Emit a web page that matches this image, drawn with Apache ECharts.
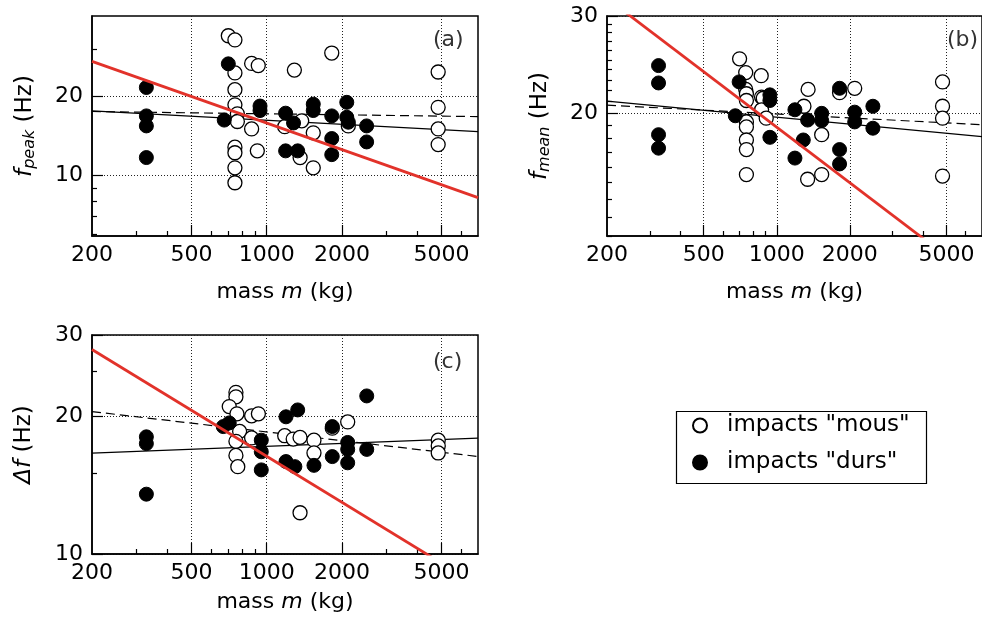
<!DOCTYPE html>
<html><head><meta charset="utf-8">
<script src="https://cdn.jsdelivr.net/npm/echarts@6/dist/echarts.min.js"></script>
<style>html,body{margin:0;padding:0;background:#fff}#c{width:982px;height:628px}</style>
</head><body><div id="c"></div>
<script>
const FONT = 'DejaVu Sans';
// shared x axis (mass, kg, log)
const xMin = 200, xMax = 7000;
const xLabels = [200, 500, 1000, 2000, 5000];
const xMajorTicks = [500, 1000, 2000, 5000];
const xMinorTicks = [300, 400, 600, 700, 800, 900, 3000, 4000, 6000];

// panel (a): f_peak
const aYMin = 5.92, aYMax = 40;
const aYLabels = [10, 20];
const aYMinor = [6, 7, 8, 9, 30];
const aMous = [[702,33.7],[746,32.5],[746,24.4],[746,21.1],[746,18.5],[763,17.1],[763,16.0],[746,12.8],[746,12.2],[746,10.7],[746,9.4],[870,26.5],[925,26.0],[870,15.0],[917,12.4],[1290,25.0],[1180,15.3],[1380,16.1],[1360,11.7],[1820,29.0],[1535,14.5],[1535,10.7],[2120,15.4],[4850,24.6],[4850,18.1],[4850,15.0],[4850,13.1]];
const aDurs = [[330,21.5],[330,16.8],[330,15.4],[330,11.7],[702,26.4],[676,16.2],[940,18.3],[940,17.6],[1190,17.2],[1190,12.4],[1280,15.8],[1330,12.4],[1535,18.6],[1535,17.6],[1820,16.8],[1820,13.8],[1820,12.0],[2090,18.9],[2090,16.6],[2120,15.9],[2510,15.4],[2510,13.4]];
const aFitRed = [[200,26.97],[7000,8.26]];
const aFitSolid = [[200,17.55],[7000,14.66]];
const aFitDash = [[200,17.45],[7000,16.7]];

// panel (b): f_mean
const bYMin = 12, bYMax = 30;
const bYLabels = [20, 30];
const bYMinor = [12,13,14,15,16,17,18,19,21,22,23,24,25,26,27,28,29];
const bMous = [[703,25.1],[745,23.7],[863,23.4],[745,22.1],[750,21.7],[750,21.1],[866,21.4],[880,21.3],[866,20.3],[905,19.6],[750,19.3],[750,18.9],[750,17.9],[750,17.2],[750,15.5],[1294,20.6],[1346,22.1],[1340,15.2],[1531,15.5],[1531,18.3],[1814,21.8],[2094,22.2],[4815,22.8],[4815,20.6],[4815,19.6],[4815,15.4]];
const bDurs = [[326,24.4],[326,22.7],[326,18.3],[326,17.3],[700,22.8],[675,19.8],[937,21.6],[937,21.1],[937,18.1],[1188,20.3],[1188,16.6],[1286,17.9],[1340,19.45],[1531,20.0],[1531,19.4],[1814,22.2],[1814,17.2],[1814,16.2],[2094,20.1],[2094,19.3],[2488,20.6],[2488,18.8]];
const bFitRed = [[200,32.3],[7000,9.86]];
const bFitSolid = [[200,21.05],[7000,18.15]];
const bFitDash = [[200,20.7],[7000,19.07]];

// panel (c): delta f
const cYMin = 10, cYMax = 30;
const cYLabels = [10, 20, 30];
const cYMinor = [15, 25];
const cMous = [[753,22.5],[753,22.0],[708,20.95],[760,20.2],[870,20.0],[926,20.2],[779,18.5],[753,17.6],[870,17.9],[753,16.4],[766,15.5],[1180,18.1],[1276,17.8],[1359,17.95],[1545,17.7],[1545,16.6],[1359,12.3],[1829,18.8],[2108,19.4],[4854,17.7],[4854,17.2],[4854,16.6]];
const cDurs = [[330,18.0],[330,17.4],[330,13.5],[670,18.95],[708,19.3],[951,17.7],[951,16.7],[951,15.25],[1194,19.9],[1194,15.9],[1330,20.6],[1296,15.5],[1545,15.6],[1829,18.95],[1829,16.3],[2108,17.5],[2108,16.9],[2108,15.8],[2512,22.1],[2512,16.9]];
const cFitRed = [[200,27.9],[7000,8.54]];
const cFitSolid = [[200,16.59],[7000,17.88]];
const cFitDash = [[200,20.43],[7000,16.31]];

const MOUS = 'impacts "mous"', DURS = 'impacts "durs"';
const RED = '#e2322a';
const fmt = v => String(Math.round(v));
const lbl = {fontSize: 22, fontFamily: FONT, color: '#000'};
const tickStyle = {color: '#000', width: 1.2};
const dotted = {color: '#222', width: 1, type: [1, 2]};

function xAxes(gi, nameGap) {
  return [{
    type: 'log', gridIndex: gi, min: xMin, max: xMax, position: 'bottom',
    axisLine: {show: true, lineStyle: {color: '#000', width: 1.5}},
    axisTick: {show: true, inside: true, length: 11, customValues: xMajorTicks, lineStyle: tickStyle},
    axisLabel: Object.assign({customValues: xLabels, formatter: fmt, margin: 8}, lbl),
    splitLine: {show: true, lineStyle: dotted},
    name: 'mass {i|m} (kg)', nameLocation: 'middle', nameGap: nameGap,
    nameTextStyle: {fontSize: 22, fontFamily: FONT, color: '#000',
      rich: {i: {fontSize: 22, fontFamily: FONT, fontStyle: 'italic', color: '#000'}}}
  }, {
    type: 'log', gridIndex: gi, min: xMin, max: xMax, position: 'bottom', offset: 0,
    axisLine: {show: false},
    axisTick: {show: true, inside: true, length: 5, customValues: xMinorTicks, lineStyle: tickStyle},
    axisLabel: {show: false}, splitLine: {show: false}
  }];
}
function yAxes(gi, min, max, labels, minor, name, rich, nameGap) {
  return [{
    type: 'log', gridIndex: gi, min: min, max: max, position: 'left',
    axisLine: {show: true, lineStyle: {color: '#000', width: 1.5}},
    axisTick: {show: true, inside: true, length: 11, customValues: labels, lineStyle: tickStyle},
    axisLabel: Object.assign({customValues: labels, formatter: fmt, margin: 9}, lbl),
    splitLine: {show: true, lineStyle: dotted},
    name: name, nameLocation: 'middle', nameRotate: 90, nameGap: nameGap,
    nameTextStyle: {fontSize: 23, fontFamily: FONT, color: '#000', rich: rich}
  }, {
    type: 'log', gridIndex: gi, min: min, max: max, position: 'left', offset: 0,
    axisLine: {show: false},
    axisTick: {show: true, inside: true, length: 5, customValues: minor, lineStyle: tickStyle},
    axisLabel: {show: false}, splitLine: {show: false}
  }];
}
const subRich = {
  i: {fontSize: 23, fontFamily: FONT, fontStyle: 'italic', color: '#000'},
  s: {fontSize: 16, fontFamily: FONT, fontStyle: 'italic', color: '#000', verticalAlign: 'bottom', padding: [9, 0, 0, 0]}
};

function panelSeries(xi, yi, mous, durs, red, solid, dash) {
  return [
    {type: 'line', name: 'fitSolid', xAxisIndex: xi, yAxisIndex: yi, data: solid, symbol: 'none',
     lineStyle: {color: '#000', width: 1.2}, silent: true, z: 2},
    {type: 'line', name: 'fitDash', xAxisIndex: xi, yAxisIndex: yi, data: dash, symbol: 'none',
     lineStyle: {color: '#000', width: 1.2, type: [9, 5]}, silent: true, z: 2},
    {type: 'scatter', name: MOUS, xAxisIndex: xi, yAxisIndex: yi, data: mous, symbol: 'circle', symbolSize: 14,
     itemStyle: {color: '#fff', borderColor: '#000', borderWidth: 1.3, opacity: 1}, z: 3},
    {type: 'scatter', name: DURS, xAxisIndex: xi, yAxisIndex: yi, data: durs, symbol: 'circle', symbolSize: 14,
     itemStyle: {color: '#000', borderColor: '#000', borderWidth: 1, opacity: 1}, z: 4},
    {type: 'line', name: 'fitRed', xAxisIndex: xi, yAxisIndex: yi, data: red, symbol: 'none',
     lineStyle: {color: RED, width: 2.8}, silent: true, z: 5}
  ];
}

const chart = echarts.init(document.getElementById('c'), null, {renderer: 'canvas'});
const gridStyle = {show: true, borderColor: '#000', borderWidth: 1.5, backgroundColor: 'rgba(0,0,0,0)'};
chart.setOption({
  animation: false,
  backgroundColor: '#fff',
  textStyle: {fontFamily: FONT},
  grid: [
    Object.assign({left: 92, top: 16, width: 386, height: 220}, gridStyle),
    Object.assign({left: 607, top: 16, width: 386, height: 220}, gridStyle),
    Object.assign({left: 92, top: 335, width: 386, height: 219}, gridStyle)
  ],
  xAxis: [].concat(xAxes(0, 45), xAxes(1, 45), xAxes(2, 37)),
  yAxis: [].concat(
    yAxes(0, aYMin, aYMax, aYLabels, aYMinor, '{i|f}{s|peak} (Hz)', subRich, 54),
    yAxes(1, bYMin, bYMax, bYLabels, bYMinor, '{i|f}{s|mean} (Hz)', subRich, 54),
    yAxes(2, cYMin, cYMax, cYLabels, cYMinor, '{i|Δf} (Hz)', subRich, 56)
  ),
  legend: {
    data: [MOUS, DURS], orient: 'vertical', left: 692, top: 413,
    itemWidth: 44, itemHeight: 14, itemGap: 12, padding: 0, selectedMode: false,
    textStyle: {fontSize: 23, fontFamily: FONT, color: '#000', lineHeight: 25}
  },
  graphic: [
    {type: 'rect', left: 674, top: 409, shape: {width: 250, height: 72}, style: {fill: 'none', stroke: '#000', lineWidth: 1.2}},
    {type: 'text', left: 433, top: 29, style: {text: '(a)', fontSize: 22, fontFamily: FONT, fill: '#333'}},
    {type: 'text', left: 947, top: 29, style: {text: '(b)', fontSize: 22, fontFamily: FONT, fill: '#333'}},
    {type: 'text', left: 433, top: 351, style: {text: '(c)', fontSize: 22, fontFamily: FONT, fill: '#333'}}
  ],
  series: [].concat(
    panelSeries(0, 0, aMous, aDurs, aFitRed, aFitSolid, aFitDash),
    panelSeries(2, 2, bMous, bDurs, bFitRed, bFitSolid, bFitDash),
    panelSeries(4, 4, cMous, cDurs, cFitRed, cFitSolid, cFitDash)
  )
});
</script></body></html>
